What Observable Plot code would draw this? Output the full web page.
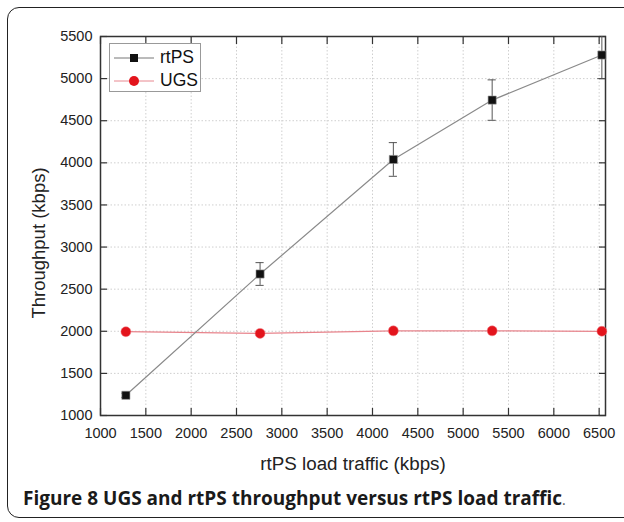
<!DOCTYPE html>
<html>
<head>
<meta charset="utf-8">
<script src="https://cdn.jsdelivr.net/npm/d3@7"></script>
<script src="https://cdn.jsdelivr.net/npm/@observablehq/plot@0.6"></script>
<style>
  html, body { margin: 0; padding: 0; background: #fff; }
  #wrap { position: relative; width: 624px; height: 522px; overflow: hidden; background: #fff; }
  #frame { position: absolute; left: 7px; top: 7px; width: 640px; height: 511px; border: 1.5px solid #222; border-radius: 12px; box-sizing: border-box; }
  #chart { position: absolute; left: 0; top: 0; }
  #legend { position: absolute; left: 109px; top: 43px; width: 92px; height: 49px; border: 1px solid #999; box-sizing: border-box; background: #fff; font-family: "Liberation Sans", Arial, sans-serif; font-size: 17.5px; color: #111; }
  #legend .row { position: absolute; left: 0; height: 24px; display: flex; align-items: center; }
  #legend svg { display: block; }
  #legend span { margin-left: 4px; line-height: 1; }
  #caption { position: absolute; left: 23px; top: 486px; font-family: "Open Sans", sans-serif; font-weight: 700; font-size: 19px; line-height: 1.362; color: #1a1a1a; white-space: nowrap; }
  #caption .dot { font-weight: 400; font-size: 14px; color: #555; }
</style>
</head>
<body>
<div id="wrap">
  <div id="frame"></div>
  <div id="chart"></div>
  <div id="legend">
    <div class="row" style="top:2px"><svg width="46" height="20"><line x1="4" x2="44" y1="10" y2="10" stroke="#777" stroke-width="1"/><rect x="20" y="6" width="8" height="8" fill="#111"/></svg><span>rtPS</span></div>
    <div class="row" style="top:25px"><svg width="46" height="20"><line x1="4" x2="44" y1="10" y2="10" stroke="#e88890" stroke-width="1"/><circle cx="24" cy="10" r="5" fill="#e3141c"/></svg><span>UGS</span></div>
  </div>
  <div id="caption">Figure 8 UGS and rtPS throughput versus rtPS load traffic<span class="dot">.</span></div>
</div>
<script>
const load = [1280, 2760, 4230, 5320, 6530];
const rtPS = [1240, 2680, 4040, 4745, 5280];
const rtPSErr = [25, 135, 200, 240, 280];
const UGS = [1995, 1975, 2005, 2005, 2000];
const xTicks = [1000, 1500, 2000, 2500, 3000, 3500, 4000, 4500, 5000, 5500, 6000, 6500];
const yTicks = [1000, 1500, 2000, 2500, 3000, 3500, 4000, 4500, 5000, 5500];
const xTitle = "rtPS load traffic (kbps)";
const yTitle = "Throughput (kbps)";

const rt = load.map((x, i) => ({x, y: rtPS[i], lo: rtPS[i] - rtPSErr[i], hi: rtPS[i] + rtPSErr[i]}));
const ug = load.map((x, i) => ({x, y: UGS[i]}));
const capHalf = 45;
const fmt = d => String(d);

const chart = Plot.plot({
  width: 624,
  height: 480,
  marginLeft: 100,
  marginRight: 19,
  marginTop: 36,
  marginBottom: 65,
  style: {fontFamily: "'Liberation Sans', Arial, sans-serif", fontSize: "14.5px", color: "#222", background: "transparent"},
  x: {domain: [1000, 6570], label: null},
  y: {domain: [1000, 5500], label: null},
  marks: [
    Plot.gridX(xTicks.slice(1), {stroke: "#cfcfcf", strokeOpacity: 1, strokeDasharray: "1.5,2"}),
    Plot.gridY(yTicks.slice(1, -1), {stroke: "#cfcfcf", strokeOpacity: 1, strokeDasharray: "1.5,2"}),
    Plot.frame({stroke: "#333", strokeWidth: 1.5}),
    Plot.axisX(xTicks, {anchor: "bottom", tickSize: -7, stroke: "#333", strokeWidth: 1.2, text: null}),
    Plot.axisX(xTicks, {anchor: "top", tickSize: -7, stroke: "#333", strokeWidth: 1.2, text: null}),
    Plot.axisY(yTicks, {anchor: "left", tickSize: -7, stroke: "#333", strokeWidth: 1.2, text: null}),
    Plot.axisY(yTicks, {anchor: "right", tickSize: -7, stroke: "#333", strokeWidth: 1.2, text: null}),
    Plot.axisX(xTicks, {anchor: "bottom", tickSize: 0, tickPadding: 12, fill: "#222", fontSize: 14.5, tickFormat: fmt}),
    Plot.axisY(yTicks, {anchor: "left", tickSize: 0, tickPadding: 8, fill: "#222", fontSize: 14.5, tickFormat: fmt}),
    Plot.text([xTitle], {frameAnchor: "bottom", dy: 54, fontSize: 18.8, fill: "#222", textAnchor: "middle"}),
    Plot.text([yTitle], {frameAnchor: "left", rotate: -90, dx: -61, dy: 17, fontSize: 18.5, fill: "#222", textAnchor: "middle"}),
    Plot.line(ug, {x: "x", y: "y", stroke: "#e8848c", strokeWidth: 1.2}),
    Plot.line(rt, {x: "x", y: "y", stroke: "#8a8a8a", strokeWidth: 1.2}),
    Plot.ruleX(rt, {x: "x", y1: "lo", y2: "hi", stroke: "#555", strokeWidth: 1, clip: true}),
    Plot.ruleY(rt, {x1: d => d.x - capHalf, x2: d => d.x + capHalf, y: "lo", stroke: "#555", strokeWidth: 1, clip: true}),
    Plot.ruleY(rt, {x1: d => d.x - capHalf, x2: d => d.x + capHalf, y: "hi", stroke: "#555", strokeWidth: 1, clip: true}),
    Plot.dot(ug, {x: "x", y: "y", r: 5, fill: "#e3141c", stroke: "#f08088", strokeWidth: 0.5}),
    Plot.dot(rt, {x: "x", y: "y", symbol: "square", r: 4.6, fill: "#111", stroke: "#999", strokeWidth: 0.6})
  ]
});
document.getElementById("chart").appendChild(chart);
</script>
</body>
</html>
